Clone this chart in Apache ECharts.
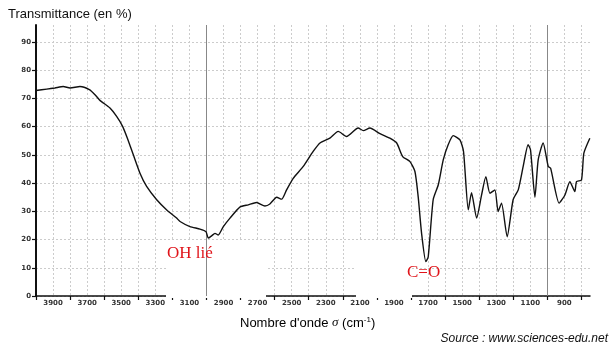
<!DOCTYPE html>
<html>
<head>
<meta charset="utf-8">
<script src="https://cdn.jsdelivr.net/npm/echarts@6/dist/echarts.min.js"></script>
<style>
  html, body { margin: 0; padding: 0; background: #fff; }
  #chart { width: 613px; height: 351px; }
</style>
</head>
<body>
<div id="chart"></div>
<script>
// spectre IR : nombre d'onde (cm-1) et transmittance (%)
const wavenumbers = [4000, 3937, 3889, 3840, 3800, 3742, 3687, 3654, 3625, 3566, 3527, 3492, 3464, 3429, 3390, 3351, 3292, 3233, 3175, 3155, 3097, 3038, 3003, 2989, 2970, 2950, 2931, 2901, 2862, 2804, 2755, 2706, 2657, 2628, 2588, 2559, 2530, 2491, 2432, 2374, 2334, 2276, 2227, 2178, 2110, 2080, 2041, 1982, 1924, 1884, 1849, 1806, 1777, 1758, 1738, 1713, 1699, 1670, 1640, 1611, 1582, 1552, 1513, 1492, 1464, 1445, 1415, 1386, 1361, 1337, 1308, 1289, 1269, 1236, 1201, 1171, 1142, 1113, 1099, 1073, 1054, 1025, 995, 981, 931, 897, 868, 839, 829, 800, 786, 751]
const transmittance = [72.8, 73.3, 73.7, 74.2, 73.7, 74.2, 73.1, 71.3, 69.3, 66.6, 63.6, 60.1, 55.9, 50.0, 43.5, 38.8, 34.1, 30.5, 27.6, 26.4, 24.6, 23.7, 22.8, 20.5, 21.3, 22.2, 21.6, 24.6, 27.6, 31.5, 32.3, 33.1, 31.9, 32.6, 35.0, 34.3, 37.6, 41.7, 45.9, 51.2, 54.2, 55.9, 58.3, 56.5, 59.5, 58.6, 59.5, 57.5, 55.9, 54.2, 49.4, 47.6, 44.1, 35.2, 22.2, 12.2, 13.9, 34.1, 39.4, 48.2, 53.6, 56.8, 55.3, 51.2, 30.5, 36.6, 27.6, 35.8, 42.3, 36.4, 37.6, 29.9, 32.9, 21.0, 34.1, 37.6, 45.9, 53.6, 51.8, 35.0, 48.2, 54.2, 45.9, 45.3, 32.9, 35.8, 40.5, 37.0, 40.5, 41.1, 50.6, 55.9]

const xLabels = [3900, 3700, 3500, 3300, 3100, 2900, 2700, 2500, 2300, 2100, 1900, 1700, 1500, 1300, 1100, 900]
const xTicks = [4000, 3800, 3600, 3400, 3200, 3000, 2800, 2600, 2400, 2200, 2000, 1800, 1600, 1400, 1200, 1000, 800]
const xGrid = [3900, 3800, 3700, 3600, 3500, 3400, 3300, 3200, 3100, 3000, 2900, 2800, 2700, 2600, 2500, 2400, 2300, 2200, 2100, 2000, 1900, 1800, 1700, 1600, 1500, 1400, 1300, 1200, 1100, 1000, 900, 800]
const yTicks = [0, 10, 20, 30, 40, 50, 60, 70, 80, 90]
const strongLines = [3000, 1000]

const chart = echarts.init(document.getElementById('chart'))

const tickFont = {
  fontSize: 7,
  fontWeight: 'bold',
  fontFamily: 'DejaVu Sans',
  color: '#333',
  formatter: v => String(v)
}

const option = {
  animation: false,
  grid: { left: 36, right: 23, top: 25, bottom: 55 },
  title: [
    {
      text: 'Transmittance (en %)',
      left: 3, top: 3,
      textStyle: { fontSize: 13, fontWeight: 'normal', fontFamily: 'Liberation Sans', color: '#111' }
    }
  ],
  xAxis: [
    {
      type: 'value',
      inverse: true,
      min: 750,
      max: 4000,
      axisLine: { lineStyle: { color: '#111', width: 1.5 } },
      axisTick: { customValues: xTicks, length: 4, lineStyle: { color: '#111', width: 1.2 } },
      axisLabel: Object.assign({ customValues: xLabels, margin: 4 }, tickFont),
      splitLine: { show: false }
    },
    {
      // grille verticale tous les 100 cm-1
      type: 'value',
      inverse: true,
      min: 750,
      max: 4000,
      position: 'bottom',
      axisLine: { show: false },
      axisTick: { show: false, customValues: xGrid },
      axisLabel: { show: false },
      splitLine: { show: true, lineStyle: { color: '#cccccc', type: [2, 2], width: 1 } }
    }
  ],
  yAxis: {
    type: 'value',
    min: 0,
    max: 96,
    axisLine: { show: true, lineStyle: { color: '#111', width: 2 } },
    axisTick: { show: true, customValues: yTicks, length: 4, lineStyle: { color: '#111', width: 1.2 } },
    axisLabel: Object.assign({ customValues: yTicks, margin: 5 }, tickFont),
    splitLine: { show: true, lineStyle: { color: '#cccccc', type: [2, 2], width: 1 } }
  },
  series: [
    {
      type: 'line',
      xAxisIndex: 0,
      data: wavenumbers.map((w, i) => [w, transmittance[i]]),
      showSymbol: false,
      smooth: 0.2,
      lineStyle: { color: '#111', width: 1.4 },
      markLine: {
        silent: true,
        symbol: 'none',
        label: { show: false },
        lineStyle: { color: '#888', type: 'solid', width: 1 },
        data: strongLines.map(v => ({ xAxis: v }))
      },
      z: 5
    }
  ],
  graphic: [
    // caches blancs autour des annotations
    { type: 'rect', z: 4, shape: { x: 166, y: 240, width: 100, height: 58 }, style: { fill: '#fff' } },
    { type: 'rect', z: 4, shape: { x: 356, y: 240, width: 56, height: 58 }, style: { fill: '#fff' } },
    {
      type: 'text', z: 10, left: 167, top: 245,
      style: { text: 'OH lié', fontSize: 17, fontFamily: 'Liberation Serif', fill: '#e0151b' }
    },
    {
      type: 'text', z: 10, left: 407, top: 264,
      style: { text: 'C=O', fontSize: 17, fontFamily: 'Liberation Serif', fill: '#e0151b' }
    },
    {
      type: 'text', z: 10, left: 240, top: 316,
      style: {
        text: "{t|Nombre d'onde }{s|σ}{t| (cm}{e|-1}{t|)}",
        rich: {
          t: { fontSize: 13, fontFamily: 'Liberation Sans', color: '#111' },
          s: { fontSize: 13, fontFamily: 'Liberation Serif', fontStyle: 'italic', color: '#111' },
          e: { fontSize: 8, fontFamily: 'Liberation Sans', color: '#111', verticalAlign: 'top', padding: [0, 0, 6, 0] }
        }
      }
    },
    {
      type: 'text', z: 10, right: 5, top: 333,
      style: { text: 'Source : www.sciences-edu.net', fontSize: 12, fontStyle: 'italic', fontFamily: 'Liberation Sans', fill: '#111' }
    }
  ]
}

chart.setOption(option)
</script>
</body>
</html>
